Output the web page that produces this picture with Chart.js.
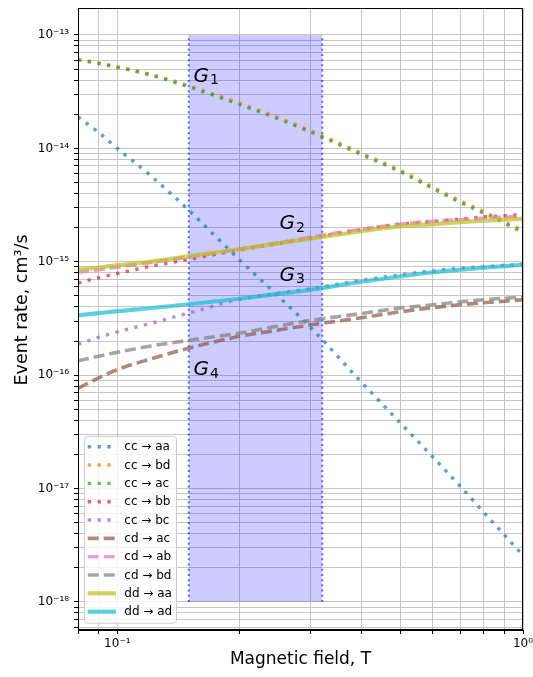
<!DOCTYPE html>
<html lang="en">
<head>
<meta charset="UTF-8" />
<title>Event rate vs magnetic field</title>
<script src="https://cdn.jsdelivr.net/npm/chart.js"></script>
<style>
    html, body { margin: 0; background: #fff; }
    .wrap { width: 533px; height: 677px; position: relative; }
</style>
</head>
<body>
<div class="wrap"><canvas id="rateChart"></canvas></div>
<script>
    // magnetic field, T
    const field = [0.08, 0.09, 0.1, 0.12, 0.15, 0.2, 0.25, 0.3, 0.4, 0.5, 0.6, 0.7, 0.8, 0.9, 1.0];

    // event rates, cm^3/s
    const ccAA = [1.9e-14, 1.38e-14, 1.0e-14, 5.87e-15, 2.85e-15, 1.04e-15, 4.92e-16, 2.62e-16, 8.65e-17, 3.75e-17, 1.89e-17, 1.05e-17, 6.19e-18, 3.9e-18, 2.57e-18];
    const ccBD = [6.08e-14, 5.65e-14, 5.24e-14, 4.52e-14, 3.57e-14, 2.51e-14, 1.86e-14, 1.43e-14, 9.08e-15, 6.37e-15, 4.56e-15, 3.45e-15, 2.78e-15, 2.26e-15, 1.88e-15];
    const ccAC = [6.04e-14, 5.61e-14, 5.19e-14, 4.46e-14, 3.49e-14, 2.44e-14, 1.81e-14, 1.39e-14, 8.81e-15, 6.18e-15, 4.42e-15, 3.34e-15, 2.69e-15, 2.19e-15, 1.82e-15];
    const ccBB = [6.5e-16, 7.24e-16, 7.88e-16, 9.09e-16, 1.05e-15, 1.27e-15, 1.45e-15, 1.62e-15, 1.92e-15, 2.15e-15, 2.26e-15, 2.38e-15, 2.48e-15, 2.55e-15, 2.61e-15];
    const ccBC = [1.87e-16, 2.16e-16, 2.41e-16, 2.84e-16, 3.53e-16, 4.65e-16, 5.3e-16, 5.79e-16, 6.89e-16, 7.69e-16, 8.34e-16, 8.79e-16, 9.06e-16, 9.33e-16, 9.53e-16];
    const cdAC = [7.66e-17, 9.48e-17, 1.12e-16, 1.38e-16, 1.73e-16, 2.2e-16, 2.5e-16, 2.78e-16, 3.21e-16, 3.63e-16, 3.94e-16, 4.18e-16, 4.35e-16, 4.49e-16, 4.63e-16];
    const cdAB = [8.09e-16, 8.51e-16, 8.96e-16, 9.82e-16, 1.1e-15, 1.29e-15, 1.47e-15, 1.65e-15, 1.94e-15, 2.15e-15, 2.28e-15, 2.35e-15, 2.43e-15, 2.48e-15, 2.52e-15];
    const cdBD = [1.34e-16, 1.47e-16, 1.59e-16, 1.8e-16, 2.03e-16, 2.35e-16, 2.72e-16, 3.04e-16, 3.5e-16, 3.92e-16, 4.18e-16, 4.43e-16, 4.63e-16, 4.77e-16, 4.89e-16];
    const ddAA = [8.51e-16, 8.91e-16, 9.33e-16, 1.0e-15, 1.12e-15, 1.29e-15, 1.46e-15, 1.6e-15, 1.86e-15, 2.06e-15, 2.15e-15, 2.24e-15, 2.31e-15, 2.35e-15, 2.4e-15];
    const ddAD = [3.38e-16, 3.52e-16, 3.67e-16, 3.89e-16, 4.22e-16, 4.72e-16, 5.21e-16, 5.67e-16, 6.67e-16, 7.46e-16, 8.09e-16, 8.51e-16, 8.87e-16, 9.14e-16, 9.42e-16];

    const seriesNames = ['cc → aa', 'cc → bd', 'cc → ac', 'cc → bb', 'cc → bc', 'cd → ac', 'cd → ab', 'cd → bd', 'dd → aa', 'dd → ad'];

    // shaded field window
    const bandX = [0.15, 0.32];
    const bandY = [1e-18, 1e-13];

    // G labels (data coordinates of the text baseline)
    const gNames = ['1', '2', '3', '4'];
    const gX = [0.154, 0.251, 0.251, 0.154];
    const gY = [3.87e-14, 1.94e-15, 6.78e-16, 1.0e-16];

    // tick labels
    const xTickValues = [0.1, 1];
    const xTickLabels = ['10⁻¹', '10⁰'];
    const yTickValues = [1e-18, 1e-17, 1e-16, 1e-15, 1e-14, 1e-13];
    const yTickLabels = ['10⁻¹⁸', '10⁻¹⁷', '10⁻¹⁶', '10⁻¹⁵', '10⁻¹⁴', '10⁻¹³'];

    const FONT = 'DejaVu Sans';
    const DOT = [3.4, 6.4];
    const DASH = [11, 5];
    const styles = [
        {color: 'rgba(31,119,180,0.7)', dash: DOT, width: 3.4},
        {color: 'rgba(255,127,14,0.7)', dash: DOT, width: 3.4},
        {color: 'rgba(44,160,44,0.7)', dash: DOT, width: 3.4},
        {color: 'rgba(214,39,40,0.7)', dash: DOT, width: 3.4},
        {color: 'rgba(148,103,189,0.7)', dash: DOT, width: 3.4},
        {color: 'rgba(140,86,75,0.7)', dash: DASH, width: 3.6},
        {color: 'rgba(227,119,194,0.7)', dash: DASH, width: 3.6},
        {color: 'rgba(127,127,127,0.7)', dash: DASH, width: 3.6},
        {color: 'rgba(188,189,34,0.7)', dash: [], width: 4.2},
        {color: 'rgba(23,190,207,0.7)', dash: [], width: 4.2}
    ];
    const seriesValues = [ccAA, ccBD, ccAC, ccBB, ccBC, cdAC, cdAB, cdBD, ddAA, ddAD];

    const toPoints = (xs, ys) => xs.map((x, i) => ({x: x, y: ys[i]}));

    function logGrid(min, max) {
        const out = [];
        for (let e = Math.floor(Math.log10(min)); e <= Math.ceil(Math.log10(max)); e++) {
            for (let m = 1; m <= 9; m++) {
                const v = parseFloat((m * Math.pow(10, e)).toPrecision(3));
                if (v >= min * 0.9999 && v <= max * 1.0001) out.push(v);
            }
        }
        return out;
    }

    function labelFor(value, values, labels) {
        const i = values.findIndex(v => Math.abs(value / v - 1) < 1e-6);
        return i >= 0 ? labels[i] : '';
    }

    // no extra room for end labels: the plot box is fixed
    function noPadding(s) {
        s.paddingLeft = 0;
        s.paddingRight = 0;
        s.paddingTop = 0;
        s.paddingBottom = 0;
    }

    const datasets = [
        {data: toPoints(bandX, [bandY[1], bandY[1]]), borderWidth: 0, fill: '+1', backgroundColor: 'rgba(0,0,255,0.2)', order: 100},
        {data: toPoints(bandX, [bandY[0], bandY[0]]), borderWidth: 0, fill: false, order: 100},
        {data: toPoints([bandX[0], bandX[0]], bandY), borderColor: 'rgba(0,0,255,0.6)', borderWidth: 2, borderDash: [2, 3.2], order: 50},
        {data: toPoints([bandX[1], bandX[1]], bandY), borderColor: 'rgba(0,0,255,0.6)', borderWidth: 2, borderDash: [2, 3.2], order: 50}
    ];
    seriesValues.forEach((vals, i) => {
        datasets.push({
            label: seriesNames[i],
            inLegend: true,
            data: toPoints(field, vals),
            borderColor: styles[i].color,
            borderWidth: styles[i].width,
            borderDash: styles[i].dash,
            cubicInterpolationMode: 'monotone',
            fill: false,
            order: 20 - i
        });
    });

    const frameAndText = {
        id: 'frameAndText',
        afterDatasetsDraw(chart) {
            const {ctx, chartArea, scales} = chart;
            ctx.save();
            // G labels
            gNames.forEach((s, i) => {
                const px = scales.x.getPixelForValue(gX[i]);
                const py = scales.y.getPixelForValue(gY[i]);
                ctx.fillStyle = '#000';
                ctx.textBaseline = 'alphabetic';
                ctx.font = 'italic 20px "' + FONT + '"';
                ctx.fillText('G', px, py);
                const w = ctx.measureText('G').width;
                ctx.font = '14px "' + FONT + '"';
                ctx.fillText(s, px + w + 1, py + 2.5);
            });

            // legend
            const items = chart.data.datasets.filter(d => d.inLegend);
            const rowH = 18.33;
            const w = 92, h = items.length * rowH + 3.4;
            const x0 = chartArea.left + 6, y0 = chartArea.bottom - 7.3 - h;
            ctx.fillStyle = 'rgba(255,255,255,0.8)';
            ctx.strokeStyle = '#cccccc';
            ctx.lineWidth = 1;
            ctx.beginPath();
            ctx.roundRect(x0 + 0.5, y0 + 0.5, w, h, 3);
            ctx.fill();
            ctx.stroke();
            ctx.font = '12px "' + FONT + '"';
            ctx.textBaseline = 'middle';
            items.forEach((d, i) => {
                const y = y0 + 10.7 + i * rowH;
                ctx.setLineDash(d.borderDash);
                ctx.lineWidth = d.borderWidth;
                ctx.strokeStyle = d.borderColor;
                ctx.beginPath();
                ctx.moveTo(x0 + 3.7, y);
                ctx.lineTo(x0 + 32, y);
                ctx.stroke();
                ctx.setLineDash([]);
                ctx.fillStyle = '#000';
                ctx.fillText(d.label, x0 + 40.3, y + 0.5);
            });

            // frame
            ctx.strokeStyle = '#000';
            ctx.lineWidth = 1;
            ctx.strokeRect(chartArea.left + 0.5, chartArea.top + 0.5, chartArea.right - chartArea.left - 1, chartArea.bottom - chartArea.top - 1);

            // y axis title
            ctx.translate(26.5, 310);
            ctx.rotate(-Math.PI / 2);
            ctx.font = '17.5px "' + FONT + '"';
            ctx.textAlign = 'center';
            ctx.textBaseline = 'alphabetic';
            ctx.fillStyle = '#000';
            ctx.fillText('Event rate, cm³/s', 0, 0);
            ctx.restore();
        }
    };

    new Chart(document.getElementById('rateChart').getContext('2d'), {
        type: 'line',
        data: {datasets: datasets},
        options: {
            responsive: true,
            maintainAspectRatio: false,
            animation: false,
            elements: {point: {radius: 0, hoverRadius: 0}, line: {tension: 0}},
            layout: {padding: {top: 8, right: 10, left: 0, bottom: 0}},
            plugins: {legend: {display: false}, tooltip: {enabled: false}},
            scales: {
                x: {
                    type: 'logarithmic',
                    min: 0.08,
                    max: 1,
                    afterBuildTicks: s => { s.ticks = logGrid(s.min, s.max).map(v => ({value: v})); },
                    afterFit: s => { s.height = 47; noPadding(s); },
                    grid: {color: '#c6c6c6', lineWidth: 1, tickColor: '#000', tickLength: 4},
                    border: {color: '#000', width: 1},
                    ticks: {
                        autoSkip: false, maxRotation: 0, padding: 3, color: '#000',
                        font: {family: FONT, size: 12},
                        callback: v => labelFor(v, xTickValues, xTickLabels)
                    },
                    title: {display: true, text: 'Magnetic field, T', color: '#000', font: {family: FONT, size: 17}, padding: {top: 0, bottom: 7}}
                },
                y: {
                    type: 'logarithmic',
                    min: 5.66e-19,
                    max: 1.73e-13,
                    afterBuildTicks: s => { s.ticks = logGrid(s.min, s.max).map(v => ({value: v})); },
                    afterFit: s => { s.width = 78; noPadding(s); },
                    grid: {color: '#c6c6c6', lineWidth: 1, tickColor: '#000', tickLength: 4},
                    border: {color: '#000', width: 1},
                    ticks: {
                        autoSkip: false, padding: 5, color: '#000',
                        font: {family: FONT, size: 12},
                        callback: v => labelFor(v, yTickValues, yTickLabels)
                    },
                    title: {display: false}
                }
            }
        },
        plugins: [frameAndText]
    });
</script>
</body>
</html>
